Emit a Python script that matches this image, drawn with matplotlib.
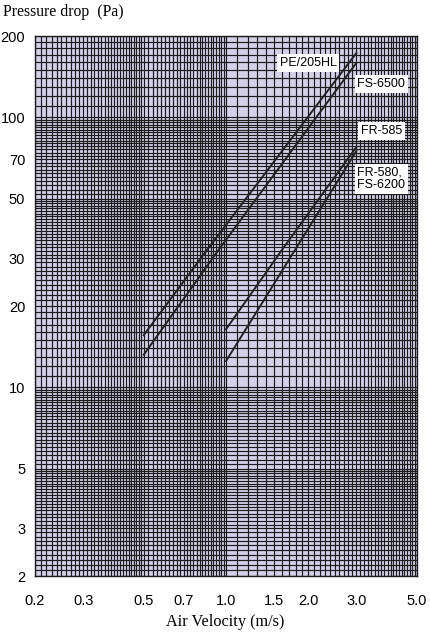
import numpy as np
import matplotlib
matplotlib.use('Agg')
import matplotlib.pyplot as plt

# curve points (air velocity m/s, pressure drop Pa)
pe205_v = [0.5, 0.851, 3.0]
pe205_p = [15.6, 32.2, 173]
fs6500_v = [0.5, 0.938, 3.0]
fs6500_p = [13.2, 32.2, 159]
fr585_v = [1.0, 1.6, 3.0]
fr585_p = [16.4, 32.2, 77.6]
fr580_v = [1.0, 1.79, 3.0]
fr580_p = [12.5, 32.3, 75.0]

x_ticks = [0.2, 0.3, 0.5, 0.7, 1.0, 1.5, 2.0, 3.0, 5.0]
x_labels = ['0.2', '0.3', '0.5', '0.7', '1.0', '1.5', '2.0', '3.0', '5.0']
y_ticks = [2, 3, 5, 10, 20, 30, 50, 70, 100, 200]
y_labels = ['2', '3', '5', '10', '20', '30', '50', '70', '100', '200']

bg = '#d4d0e8'
ink = '#1c1c1c'
sans = ['Liberation Sans', 'DejaVu Sans']
serif = ['Liberation Serif', 'DejaVu Serif']


def log_paper(lo, hi):
    # lines every 0.1 of the mantissa up to 5, every 0.2 from 5 to 10
    vals = []
    for dec in [0.01, 0.1, 1, 10, 100]:
        for m in np.arange(1.0, 5.0, 0.1):
            vals.append(round(m * dec, 6))
        for m in np.arange(5.0, 10.0, 0.2):
            vals.append(round(m * dec, 6))
    return [v for v in vals if lo <= v <= hi]


fig = plt.figure(figsize=(4.3, 6.37), dpi=100)
ax = fig.add_axes([35 / 430, 1 - 576 / 637, 382 / 430, 540 / 637])
ax.set_facecolor(bg)
ax.set_xscale('log')
ax.set_yscale('log')
ax.set_xlim(0.2, 5.0)
ax.set_ylim(2, 200)

for v in log_paper(0.2, 5.0):
    ax.axvline(v, color=ink, lw=0.85, zorder=1)
for v in log_paper(2, 200):
    ax.axhline(v, color=ink, lw=0.85, zorder=1)

for vv, pp in [(pe205_v, pe205_p), (fs6500_v, fs6500_p),
               (fr585_v, fr585_p), (fr580_v, fr580_p)]:
    ax.plot(vv, pp, color='#222222', lw=1.4, zorder=3)

box = dict(facecolor='white', edgecolor='none', pad=2.0)
lab = dict(fontsize=9, family=sans, ha='center', va='center', bbox=box, zorder=4)
ax.text(2.0, 159, 'PE/205HL', **lab)
ax.text(3.7, 133, 'FS-6500', **lab)
ax.text(3.7, 89, 'FR-585', **lab)
ax.text(3.7, 59, 'FR-580,\nFS-6200', multialignment='left', linespacing=1.05, **lab)

ax.xaxis.set_major_locator(matplotlib.ticker.FixedLocator(x_ticks))
ax.xaxis.set_minor_locator(matplotlib.ticker.NullLocator())
ax.yaxis.set_major_locator(matplotlib.ticker.FixedLocator(y_ticks))
ax.yaxis.set_minor_locator(matplotlib.ticker.NullLocator())
ax.set_xticklabels(x_labels, family=sans, fontsize=10.5)
ax.set_yticklabels(y_labels, family=sans, fontsize=10.5)
ax.tick_params(axis='x', length=0, pad=13)
ax.tick_params(axis='y', length=0, pad=7)
for s in ax.spines.values():
    s.set_color(ink)
    s.set_linewidth(1.0)

fig.text(3 / 430, 1 - 12 / 637, 'Pressure drop  (Pa)', family=serif, fontsize=11.3,
         ha='left', va='center')
fig.text(225 / 430, 1 - 622 / 637, 'Air Velocity (m/s)', family=serif, fontsize=11.7,
         ha='center', va='center')

fig.savefig('out.png', dpi=100, facecolor='white')
